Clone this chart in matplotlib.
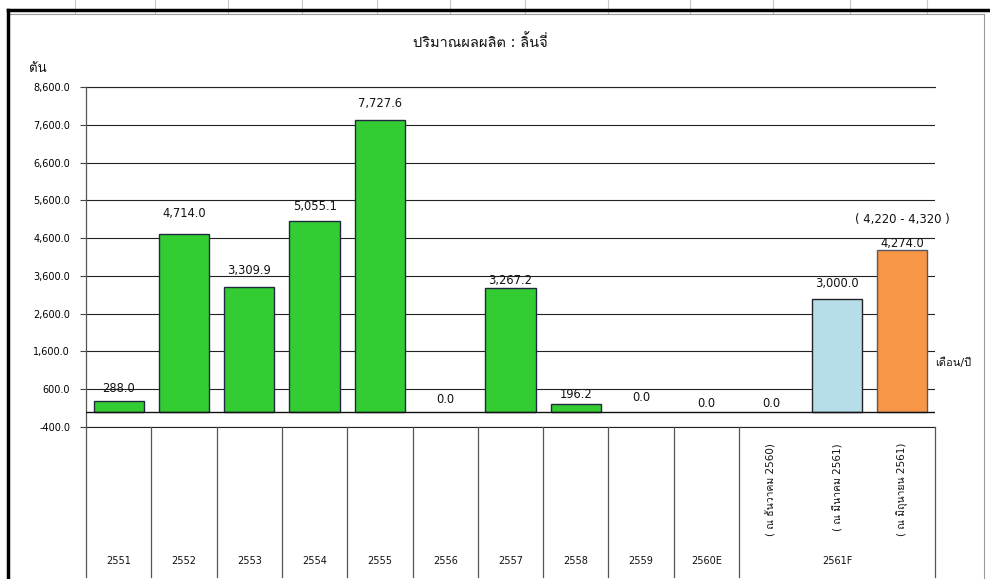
import matplotlib
matplotlib.use("Agg")
import matplotlib.pyplot as plt
from matplotlib import font_manager
from matplotlib.ft2font import FT2Font
from matplotlib.lines import Line2D
import numpy as np

# data
year_labels = ["2551", "2552", "2553", "2554", "2555", "2556",
               "2557", "2558", "2559", "2560E"]
group_label = "2561F"
sub_labels = ["( ณ ธันวาคม 2560)", "( ณ มีนาคม 2561)", "( ณ มิถุนายน 2561)"]
values = [288.0, 4714.0, 3309.9, 5055.1, 7727.6, 0.0,
          3267.2, 196.2, 0.0, 0.0, 0.0, 3000.0, 4274.0]
range_note = "( 4,220 - 4,320 )"
title = "ปริมาณผลผลิต : ลิ้นจี่"
y_unit = "ตัน"
x_unit = "เดือน/ปี"
y_ticks = np.arange(-400, 8601, 1000)

# layout / style
W, H = 990, 579
label_offsets = [13, 20, 16, 14, 16, 12, 8, 10, 14, 8, 8, 15, 7]   # px above bar top
bar_colors = ["#33cc33"] * 11 + ["#b7dde8", "#f79646"]
edge_colors = ["#1f2a40"] * 11 + ["#222222", "#555a66"]


def find_thai_font():
    for f in font_manager.fontManager.ttflist:
        try:
            cmap = FT2Font(f.fname).get_charmap()
        except Exception:
            continue
        if 0x0E1B in cmap and 0x0E34 in cmap and 0x0E49 in cmap:
            return f.name
    return None


thai = find_thai_font()
plt.rcParams["font.family"] = ["DejaVu Sans"] + ([thai] if thai else [])
plt.rcParams["text.color"] = "#111111"


def fx(x):
    return x / W


def fy(y):
    return 1 - y / H


fig = plt.figure(figsize=(W / 100, H / 100), dpi=100)
fig.patch.set_facecolor("white")

# spreadsheet frame around the chart
for x in [75, 155, 228, 302, 377, 450, 525, 608, 690, 773, 850, 927]:
    fig.add_artist(Line2D([fx(x), fx(x)], [fy(0), fy(13)], color="#c8c8c8", lw=0.8))
fig.add_artist(Line2D([fx(8), fx(W)], [fy(10), fy(10)], color="black", lw=2.5))
fig.add_artist(Line2D([fx(8), fx(984)], [fy(14), fy(14)], color="#9a9a9a", lw=0.8))
fig.add_artist(Line2D([fx(8), fx(8)], [fy(10), fy(H)], color="black", lw=2.5))
fig.add_artist(Line2D([fx(984), fx(984)], [fy(14), fy(H)], color="#9a9a9a", lw=0.8))

ax = fig.add_axes([fx(86), fy(427), fx(935 - 86), (427 - 87) / H])
x = np.arange(len(values))
edge_widths = [1.0 if v != 0 else 0.0 for v in values]
ax.bar(x, values, width=0.77, color=bar_colors, edgecolor=edge_colors,
       linewidth=edge_widths, zorder=3)

ax.set_xlim(-0.5, len(values) - 0.5)
ax.set_ylim(y_ticks[0], y_ticks[-1])
ax.set_yticks(y_ticks)
ax.set_yticklabels([f"{t:,.1f}" for t in y_ticks], fontsize=7)
ax.set_xticks([])
ax.tick_params(axis="y", direction="out", length=4.5, width=0.8,
               color="#444444", pad=7)
ax.grid(axis="y", color="#222222", lw=0.8, zorder=1)
ax.axhline(y_ticks[0], color="#222222", lw=0.8, clip_on=False)
ax.axhline(y_ticks[-1], color="#222222", lw=0.8, clip_on=False)
ax.axhline(0, color="#111111", lw=1.0, zorder=4)
for side in ["top", "right", "bottom"]:
    ax.spines[side].set_visible(False)
ax.spines["left"].set_color("#555555")
ax.spines["left"].set_linewidth(0.9)

for xi, v, off in zip(x, values, label_offsets):
    ax.annotate(f"{v:,.1f}", (xi, v), xytext=(0, off), textcoords="offset pixels",
                ha="center", va="center", fontsize=8.3, zorder=5)

ax.annotate(range_note, (x[-1], values[-1]), xytext=(0, 31),
            textcoords="offset pixels", ha="center", va="center", fontsize=8.4)

# category table under the axis
trans = ax.get_xaxis_transform()
table_bottom = -(577 - 427) / (427 - 87)
bounds = list(np.arange(len(year_labels) + 1) - 0.5) + [len(values) - 0.5]
for b in bounds:
    ax.plot([b, b], [0, table_bottom], transform=trans, color="#555555",
            lw=0.9, clip_on=False)

label_y = -(561 - 427) / (427 - 87)
for i, lab in enumerate(year_labels):
    ax.text(i, label_y, lab, transform=trans, ha="center", va="center", fontsize=7)
n_years = len(year_labels)
ax.text(n_years + 1, label_y, group_label, transform=trans, ha="center",
        va="center", fontsize=7)
sub_top = -(443 - 427) / (427 - 87)
for j, lab in enumerate(sub_labels):
    ax.text(n_years + j, sub_top, lab, transform=trans, rotation=90,
            ha="center", va="top", fontsize=7.5)

fig.text(fx(480), fy(42), title, ha="center", va="center", fontsize=10.5)
fig.text(fx(29), fy(69), y_unit, ha="left", va="center", fontsize=9.5)
fig.text(fx(935), fy(363), x_unit, ha="left", va="center", fontsize=8)

fig.savefig("out.png", dpi=100)
